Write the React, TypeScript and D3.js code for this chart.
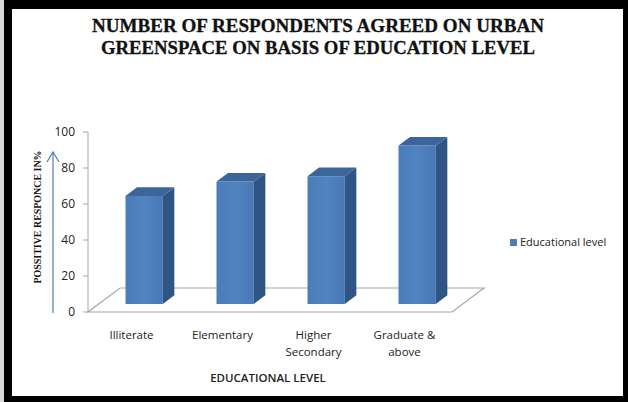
import React from "react";
import * as d3 from "d3";

const categories: string[][] = [["Illiterate"], ["Elementary"], ["Higher", "Secondary"], ["Graduate &", "above"]];
const values: number[] = [60, 68, 71, 88];
const yTicks: number[] = [0, 20, 40, 60, 80, 100];
const seriesName = "Educational level";
const titleLines = ["NUMBER OF RESPONDENTS AGREED ON  URBAN", "GREENSPACE ON BASIS OF EDUCATION LEVEL"];
const yTitle = "POSSITIVE RESPONCE IN%";
const xTitle = "EDUCATIONAL LEVEL";

const W = 628, H = 402;
const x0 = 88, x1 = 452, yBottom = 312, yTop = 132;
const DX = 32, DY = -24;

export default function App() {
  const y = d3.scaleLinear().domain([0, 100]).range([yBottom, yTop]);
  const x = d3.scaleBand<number>().domain(categories.map((_, i) => i)).range([x0, x1]).padding(0);
  const step = x.step();
  const bw = step * 0.41;
  const dStart = 1 / 3, dLen = 0.36;
  const font = "'Open Sans', 'DejaVu Sans', sans-serif";

  const bars = values.map((v, i) => {
    const cx = (x(i) as number) + step / 2;
    const fx = cx - bw / 2 + DX * dStart;
    const fyTop = y(v) + DY * dStart;
    const fyBot = y(0) + DY * dStart;
    const ddx = DX * dLen, ddy = DY * dLen;
    const front = `M${fx},${fyTop}H${fx + bw}V${fyBot}H${fx}Z`;
    const side = `M${fx + bw},${fyTop}L${fx + bw + ddx},${fyTop + ddy}V${fyBot + ddy}L${fx + bw},${fyBot}Z`;
    const top = `M${fx},${fyTop}L${fx + ddx},${fyTop + ddy}H${fx + bw + ddx}L${fx + bw},${fyTop}Z`;
    return { front, side, top, key: i };
  });

  const floor = `M${x0},${yBottom}L${x0 + DX},${yBottom + DY}H${x1 + DX}L${x1},${yBottom}Z`;

  return (
    <svg width={W} height={H} style={{ position: "absolute", left: 0, top: 0, background: "#fff" }}>
      <defs>
        <linearGradient id="frontGrad" x1="0" x2="1" y1="0" y2="0">
          <stop offset="0" stopColor="#4a7cba" />
          <stop offset="0.5" stopColor="#5283c1" />
          <stop offset="1" stopColor="#4878b5" />
        </linearGradient>
      </defs>
      <rect x={0} y={0} width={W} height={H} fill="#000" />
      <rect x={0} y={0} width={4} height={H} fill="#d8d8d8" />
      <rect x={12} y={9} width={611} height={387} fill="#fff" />

      {titleLines.map((t, i) => (
        <text key={i} x={318} y={32 + i * 22} textAnchor="middle" fontFamily="'Liberation Serif', serif" fontWeight="bold" fontSize={18} fill="#111" stroke="#111" strokeWidth={0.3} textLength={i === 0 ? 452 : 434} lengthAdjust="spacingAndGlyphs">{t}</text>
      ))}

      <path d={floor} fill="none" stroke="#a6a6a6" strokeWidth={1.2} />
      <line x1={x0} x2={x0} y1={yBottom} y2={yTop} stroke="#a6a6a6" strokeWidth={1} />
      {yTicks.map((t) => (
        <g key={t}>
          <line x1={x0 - 5} x2={x0} y1={y(t)} y2={y(t)} stroke="#a6a6a6" />
          <text x={x0 - 13} y={y(t)} dy="0.35em" textAnchor="end" fontFamily={font} fontSize={12} fill="#222">{t}</text>
        </g>
      ))}

      {bars.map((b) => (
        <g key={b.key}>
          <path d={b.front} fill="url(#frontGrad)" />
          <path d={b.side} fill="#2f5584" />
          <path d={b.top} fill="#3b659b" />
        </g>
      ))}

      {categories.map((lines, i) => (
        <text key={i} x={(x(i) as number) + step / 2 - 2} y={339} textAnchor="middle" fontFamily={font} fontSize={11.5} fill="#222">
          {lines.map((l, j) => (
            <tspan key={j} x={(x(i) as number) + step / 2 - 2} dy={j === 0 ? 0 : 17}>{l}</tspan>
          ))}
        </text>
      ))}

      <text x={268} y={382} textAnchor="middle" fontFamily={font} fontSize={11.5} fontWeight="600" fill="#222">{xTitle}</text>

      <text transform={`translate(41,217) rotate(-90)`} textAnchor="middle" fontFamily="'Liberation Serif', serif" fontWeight="bold" fontSize={9.5} fill="#111" textLength={133} lengthAdjust="spacingAndGlyphs">{yTitle}</text>
      <line x1={53} x2={53} y1={313} y2={152} stroke="#4a7ebb" strokeWidth={1.2} />
      <path d="M47,162 L53,152 L59,162" fill="none" stroke="#4a7ebb" strokeWidth={1.2} />

      <rect x={510} y={239} width={7} height={7} fill="#4a7ebb" />
      <text x={520} y={242.5} dy="0.35em" fontFamily={font} fontSize={11} fill="#222">{seriesName}</text>
    </svg>
  );
}
